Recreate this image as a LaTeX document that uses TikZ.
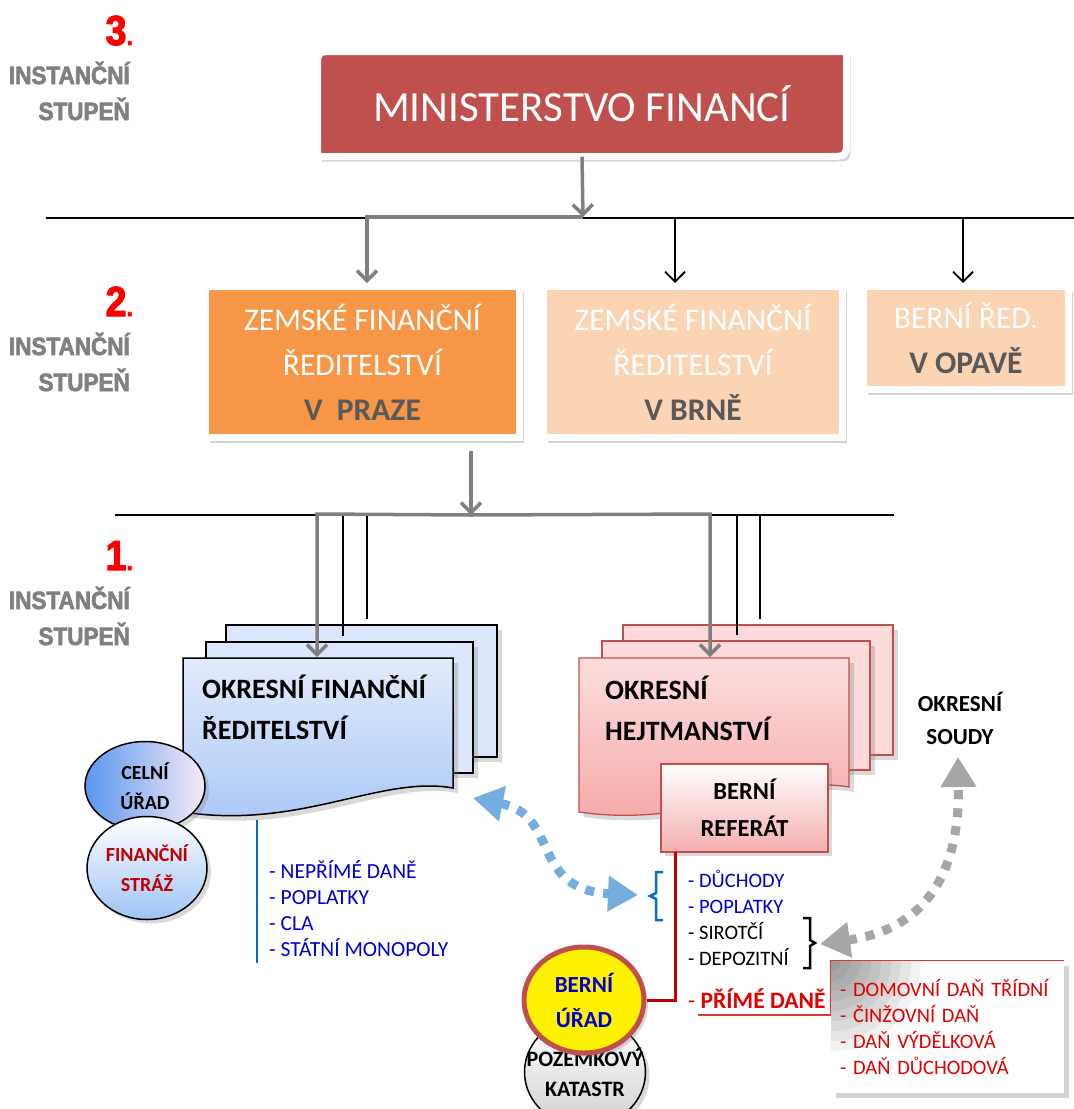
\documentclass[tikz,border=0pt]{standalone}
\usepackage{fontspec}
\setmainfont{Carlito}
\newfontfamily\stupfont[FakeStretch=0.9,FakeBold=2.5]{Liberation Sans Bold}
\usetikzlibrary{arrows.meta,shapes.geometric,shadows,calc}

\definecolor{minred}{HTML}{C0504D}
\definecolor{praorange}{HTML}{F79646}
\definecolor{peach}{HTML}{FBD4B4}
\definecolor{darktxt}{HTML}{595959}
\definecolor{lvlgray}{HTML}{808080}
\definecolor{arrgray}{HTML}{7F7F7F}
\definecolor{docbluetop}{HTML}{E2EBFB}
\definecolor{docblue}{HTML}{A8C6F6}
\definecolor{docblueback}{HTML}{DCE6FA}
\definecolor{docredtop}{HTML}{FDDEDE}
\definecolor{docred}{HTML}{F6A6A6}
\definecolor{docredback}{HTML}{FCDADA}
\definecolor{refpink}{HTML}{F4AEAE}
\definecolor{listblue}{HTML}{0000CC}
\definecolor{linkblue}{HTML}{0070C0}
\definecolor{darkred}{HTML}{C00000}
\definecolor{taxred}{HTML}{E00000}
\definecolor{dotblue}{HTML}{74ADDE}
\definecolor{dotgray}{HTML}{A6A6A6}
\definecolor{celblue}{HTML}{5A97EE}
\definecolor{celpink}{HTML}{F8EAF6}
\definecolor{strazblue}{HTML}{9EC3F5}

\begin{document}
\begin{tikzpicture}[x=1pt, y=-1pt,
  lvlnum/.style={anchor=base east, inner sep=0pt, text=red,
                 font=\stupfont\fontsize{42}{42}\selectfont},
  lvlword/.style={anchor=base east, inner sep=0pt, text=lvlgray,
                  font=\stupfont\fontsize{25}{25}\selectfont},
  lvlbox/.style={draw=white, line width=7pt, inner sep=0pt, align=center, text=white,
                 font=\fontsize{31.5}{45}\selectfont,
                 drop shadow={shadow xshift=4pt, shadow yshift=-5pt, opacity=.35}},
  grayarr/.style={draw=arrgray, line width=3.5pt, -{Straight Barb[length=10pt,width=20pt]}},
  blackarr/.style={draw=black, line width=1.8pt, -{Straight Barb[length=10pt,width=20pt]}},
  docback/.style={line width=1.3pt, inner sep=0pt,
                  drop shadow={shadow xshift=5pt, shadow yshift=-5pt, opacity=.3}},
  doctext/.style={anchor=base west, align=left, inner sep=0pt,
                  font=\bfseries\fontsize{28}{41}\selectfont},
  circ/.style={ellipse, draw=black, line width=1.5pt, inner sep=0pt, align=center,
               font=\bfseries\fontsize{20}{30}\selectfont,
               drop shadow={shadow xshift=4pt, shadow yshift=-4pt, opacity=.3}},
  listtext/.style={anchor=base west, align=left, inner sep=0pt, font=\fontsize{21.5}{26}\selectfont},
  dotarr/.style={line width=9pt, dash pattern=on 9pt off 9pt,
                 {Triangle[length=30pt,width=34pt]}-{Triangle[length=30pt,width=34pt]}}
]
\useasboundingbox (0,0) rectangle (1074,1109);

% --- level labels ---
\foreach \lv/\y in {3/45, 2/316, 1/570} {
  \node[lvlnum] (num\lv) at (133,\y) {\lv\fontsize{25}{25}\selectfont.};
  \node[lvlword] (inst\lv) at (130,\y+39) {INSTANČNÍ};
  \node[lvlword] (stup\lv) at (130,\y+75) {STUPEŇ};
}

% --- 3. Ministerstvo ---
\path[fill=minred, draw=white, line width=7pt,
      drop shadow={shadow xshift=4pt, shadow yshift=-5pt, opacity=.35}]
  (317.5,156.5) -- (317.5,69.5) .. controls (317.5,51.5) .. (335.5,51.5)
  -- (846.5,51.5) -- (846.5,138.5) .. controls (846.5,156.5) .. (828.5,156.5) -- cycle;
\node[text=white, font=\fontsize{43}{43}\selectfont, minimum width=529pt,
      minimum height=105pt, inner sep=0pt] (min) at (582,104) {MINISTERSTVO FINANCÍ};

% --- line between 3. and 2. ---
\coordinate (l1w) at (46,218);
\coordinate (l1e) at (1074,218);
\coordinate (j1) at (583,217);
\coordinate (j1p) at (367,217);
\coordinate (j1b) at (675,218);
\coordinate (j1o) at (963,218);
\draw[line width=2pt] (l1w) -- (l1e);

% --- 2. level boxes ---
\node[lvlbox, fill=praorange, minimum width=314pt, minimum height=151pt] (praha) at (362.5,362)
  {ZEMSKÉ FINANČNÍ\\ŘEDITELSTVÍ\\{\bfseries\color{darktxt}V\ \ PRAZE}};
\node[lvlbox, fill=peach, minimum width=299pt, minimum height=151pt] (brno) at (693,362)
  {ZEMSKÉ FINANČNÍ\\ŘEDITELSTVÍ\\{\bfseries\color{darktxt}V BRNĚ}};
\node[lvlbox, fill=peach, minimum width=205pt, minimum height=103pt] (opava) at (966,338)
  {BERNÍ ŘED.\\{\bfseries\color{darktxt}V OPAVĚ}};

\draw[grayarr] (min.south) -- (j1);
\draw[grayarr] (j1) -- (j1p) -- (j1p |- praha.north);
\draw[blackarr] (j1b) -- (j1b |- brno.north);
\draw[blackarr] (j1o) -- (j1o |- opava.north);

% --- line between 2. and 1. ---
\coordinate (l2w) at (115,515);
\coordinate (l2e) at (894,515);
\coordinate (j2) at (471,515);
\coordinate (j2l) at (317,514);
\coordinate (j2r) at (710,514);
\draw[line width=2pt] (l2w) -- (l2e);
\draw[grayarr] (praha.south -| j2) ++(0,10) -- (j2);

% --- okresni financni reditelstvi (stack) ---
\node[docback, draw=black, fill=docblueback, minimum width=271pt, minimum height=132pt] (ofr3) at (361.5,691) {};
\node[docback, draw=black, fill=docblueback, minimum width=267pt, minimum height=131pt] (ofr2) at (339.5,707.5) {};
\path[draw=black, line width=1.5pt, top color=docbluetop, bottom color=docblue,
      drop shadow={shadow xshift=5pt, shadow yshift=-5pt, opacity=.3}]
  (183,658) -- (453,658) -- (453,788) .. controls (380,775) and (300,830) .. (183,812) -- cycle;
\node[doctext] (ofr) at (202,739) {OKRESNÍ FINANČNÍ\\ŘEDITELSTVÍ};

% --- okresni hejtmanstvi (stack) ---
\node[docback, draw=minred, fill=docredback, minimum width=270pt, minimum height=130pt] (oh3) at (758,690) {};
\node[docback, draw=minred, fill=docredback, minimum width=268pt, minimum height=129pt] (oh2) at (736,705.5) {};
\path[draw=minred, line width=1.3pt, top color=docredtop, bottom color=docred,
      drop shadow={shadow xshift=5pt, shadow yshift=-5pt, opacity=.3}]
  (579,658) -- (849,658) -- (849,787) .. controls (776,774) and (696,829) .. (579,812) -- cycle;
\node[doctext] (oh) at (605,740) {OKRESNÍ\\HEJTMANSTVÍ};

% connectors into level 1
\coordinate (ofrin) at (317,657);
\coordinate (ohin) at (710,657);
\draw[grayarr] (j2) -- (j2l) -- (ofrin);
\draw[grayarr] (j2) -- (j2r) -- (ohin);
\foreach \x/\n in {343/ofr2, 367/ofr3, 737/oh2, 760/oh3} {
  \coordinate (t\x) at (\x,516);
  \draw[line width=1.5pt] (t\x) -- ($(t\x |- \n.north)+(0,-5)$);
}

% --- berni referat ---
\node[draw=minred, line width=1.3pt, top color=white, bottom color=refpink,
      minimum width=167pt, minimum height=88pt, inner sep=0pt, align=center,
      font=\bfseries\fontsize{24.5}{37}\selectfont,
      drop shadow={shadow xshift=4pt, shadow yshift=-4pt, opacity=.3}] (ref) at (744.5,808)
  {BERNÍ\\REFERÁT};

% --- okresni soudy ---
\node[align=center, inner sep=0pt, font=\bfseries\fontsize{23}{33}\selectfont] (soudy) at (960,718)
  {OKRESNÍ\\SOUDY};

% --- circles left ---
\node[circ, left color=celblue, right color=celpink, minimum width=120pt, minimum height=89pt] (celni) at (145,786)
  {CELNÍ\\ÚŘAD};
\node[circ, top color=white, bottom color=strazblue, text=darkred, minimum width=120pt, minimum height=103pt] (straz) at (147,868)
  {FINANČNÍ\\STRÁŽ};

% --- list of financni reditelstvi ---
\coordinate (blt) at (257,820);
\coordinate (blb) at (257,963);
\draw[linkblue, line width=2pt] (blt) -- (blb);
\node[listtext, text=listblue] (neprime) at (269,956)
  {- NEPŘÍMÉ DANĚ\\- POPLATKY\\- CLA\\- STÁTNÍ MONOPOLY};

% --- berni urad + katastr ---
\node[circ, top color=white, bottom color=black!18, minimum width=121pt, minimum height=110pt,
      font=\bfseries\fontsize{22}{30}\selectfont] (katastr) at (585,1072)
  {\makebox[0pt]{POZEMKOVÝ}\\\makebox[0pt]{KATASTR}};
\node[circ, draw=minred, line width=5pt, fill=yellow, text=listblue, minimum width=120pt, minimum height=106pt,
      font=\bfseries\fontsize{23}{35}\selectfont] (berni) at (584,1000)
  {BERNÍ\\ÚŘAD};
\coordinate (rl) at (675,852);
\draw[darkred, line width=3pt] (rl) |- (berni.east);

% --- list of berni referat ---
\node[listtext, font=\fontsize{20.5}{26}\selectfont] (duchody) at (688,965)
  {\color{listblue}- DŮCHODY\\\color{listblue}- POPLATKY\\- SIROTČÍ\\- DEPOZITNÍ};
\node[listtext, text=taxred, font=\fontsize{23.5}{23.5}\selectfont] (prime) at (688,1008)
  {- \textbf{PŘÍMÉ DANĚ}};

% braces
\draw[linkblue, line width=2.5pt] (663,872) -- (656,872) -- (656,893) -- (650,896) -- (656,899) -- (656,920) -- (663,920);
\draw[black, line width=2.5pt] (803,918) -- (810,918) -- (810,940) -- (815,943) -- (810,946) -- (810,968) -- (803,968);

% --- prime dane box ---
\node[fill=white, minimum width=233pt, minimum height=132pt, inner sep=0pt, inner xsep=9pt,
      text width=215pt, align=left, text=taxred, font=\fontsize{20.5}{26}\selectfont,
      drop shadow={shadow xshift=5pt, shadow yshift=-5pt, opacity=.35},
      path picture={\foreach \r in {90,80,...,10}
        {\fill[black, opacity=.05] (path picture bounding box.north west) circle[radius=\r pt];}}]
  (dane) at (947.5,1027)
  {- DOMOVNÍ DAŇ TŘÍDNÍ\\- ČINŽOVNÍ DAŇ\\- DAŇ VÝDĚLKOVÁ\\- DAŇ DŮCHODOVÁ};
\coordinate (ul) at (698,1015);
\draw[taxred!80, line width=1.2pt] (ul) -- (ul -| dane.west) -- (dane.north west) -- (dane.north east);

% --- dotted arrows ---
\coordinate (ofrout) at (473,798);
\coordinate (bracein) at (638,895);
\draw[dotarr, dotblue] (ofrout) .. controls (560,815) and (530,890) .. (bracein);
\coordinate (sirin) at (820,944);
\coordinate (soudyin) at (958,757);
\draw[dotarr, dotgray] (sirin) .. controls (920,930) and (960,880) .. (soudyin);

\end{tikzpicture}
\end{document}
